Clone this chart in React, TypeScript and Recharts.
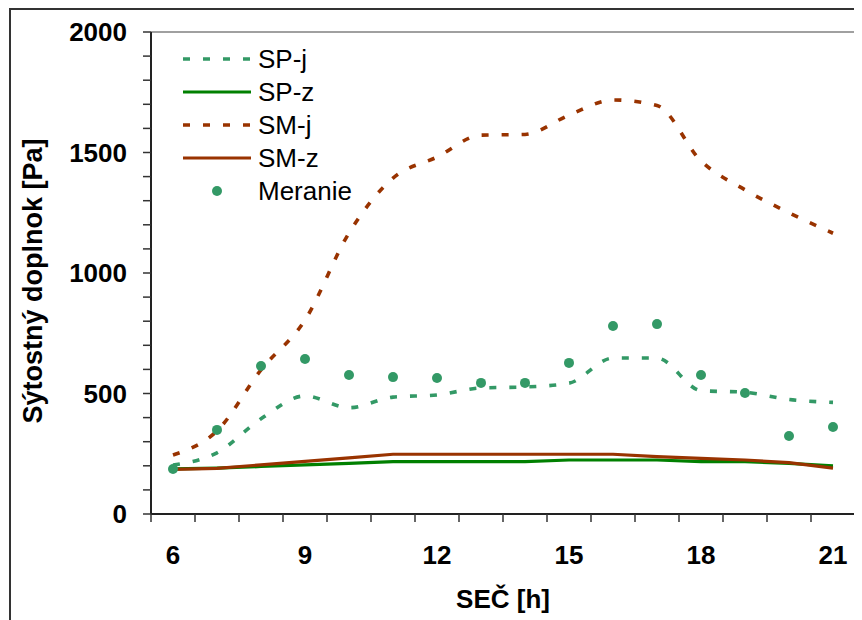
import { ComposedChart, Line, XAxis, YAxis, ReferenceLine, Legend } from "recharts"

const hours = [6, 7, 8, 9, 10, 11, 12, 13, 14, 15, 16, 17, 18, 19, 20, 21]
const spJ = [203, 254, 395, 490, 441, 485, 494, 523, 527, 543, 647, 647, 512, 505, 475, 463]
const spZ = [187, 190, 197, 204, 210, 217, 217, 217, 217, 224, 224, 224, 217, 217, 210, 200]
const smJ = [245, 345, 598, 805, 1166, 1394, 1481, 1572, 1575, 1655, 1718, 1695, 1465, 1345, 1250, 1165]
const smZ = [185, 189, 204, 218, 233, 248, 248, 248, 248, 248, 248, 238, 231, 224, 213, 190]
const meranie = [187, 349, 614, 643, 577, 568, 564, 544, 544, 627, 780, 788, 577, 502, 324, 361]

const xLabelTicks = [6, 9, 12, 15, 18, 21]
const yTicks = [0, 100, 200, 300, 400, 500, 600, 700, 800, 900, 1000, 1100, 1200, 1300, 1400, 1500, 1600, 1700, 1800, 1900, 2000]

const GREEN = "#339966"
const DARK_GREEN = "#008000"
const BROWN = "#993300"
const FONT = "'Liberation Sans', Arial, sans-serif"
const DASH = "7 13"

const data = hours.map((h, i) => ({
  hour: h,
  spj: spJ[i],
  spz: spZ[i],
  smj: smJ[i],
  smz: smZ[i],
  meranie: meranie[i],
}))

// tick marks sit between the hours, like Excel's category axis
const xMinorTicks = [...hours.map((h) => h - 0.5), hours[hours.length - 1] + 0.5]
const xTicks = [...xMinorTicks, ...xLabelTicks].sort((a, b) => a - b)

const legendRows = [
  { name: "SP-j", color: GREEN, dash: DASH },
  { name: "SP-z", color: DARK_GREEN },
  { name: "SM-j", color: BROWN, dash: DASH },
  { name: "SM-z", color: BROWN },
  { name: "Meranie", color: GREEN, dot: true },
]

function HourTick(props: any) {
  const { x, y, payload } = props
  const v = payload.value
  if (!Number.isInteger(v)) {
    return <line x1={x} x2={x} y1={y} y2={y + 8} stroke="#333" strokeWidth={1.5} />
  }
  return (
    <text x={x} y={y + 50} textAnchor="middle" fontFamily={FONT} fontWeight="bold" fontSize={26} fill="#000">
      {v}
    </text>
  )
}

function LegendBox() {
  return (
    <svg width={240} height={170}>
      {legendRows.map((r, i) => {
        const y = 19 + i * 33
        return (
          <g key={r.name}>
            {r.dot ? (
              <circle cx={46} cy={y} r={5} fill={r.color} />
            ) : (
              <line
                x1={12}
                x2={80}
                y1={y}
                y2={y}
                stroke={r.color}
                strokeWidth={r.dash ? 3.6 : 3.2}
                strokeDasharray={r.dash}
              />
            )}
            <text x={87} y={y + 9} fontFamily={FONT} fontSize={26} fill="#000">
              {r.name}
            </text>
          </g>
        )
      })}
    </svg>
  )
}

export default function App() {
  return (
    <div
      style={{
        marginLeft: 1,
        width: 851,
        height: 610,
        borderTop: "2px solid #333",
        borderLeft: "2px solid #333",
        overflow: "hidden",
        background: "#fff",
      }}
    >
      <style>{`body{overflow:hidden}`}</style>
      <ComposedChart width={851} height={610} data={data} margin={{ top: 22, right: 7, bottom: 0, left: 0 }}>
        <XAxis
          dataKey="hour"
          type="number"
          domain={[5.5, 21.5]}
          ticks={xTicks}
          interval={0}
          height={106}
          tickSize={0}
          tickMargin={0}
          tickLine={false}
          tick={<HourTick />}
          axisLine={{ stroke: "#222", strokeWidth: 2 }}
          label={{
            content: () => (
              <text x={492} y={598} textAnchor="middle" fontFamily={FONT} fontWeight="bold" fontSize={26} fill="#000">
                SEČ [h]
              </text>
            ),
          }}
        />
        <YAxis
          type="number"
          domain={[0, 2000]}
          ticks={yTicks}
          interval={0}
          width={140}
          tickSize={8}
          tickMargin={16}
          tickFormatter={(v: number) => (v % 500 === 0 ? String(v) : "")}
          tick={{ fontFamily: FONT, fontWeight: "bold", fontSize: 26, fill: "#000" }}
          tickLine={{ stroke: "#333", strokeWidth: 1.5 }}
          axisLine={{ stroke: "#222", strokeWidth: 2 }}
          label={{
            content: () => (
              <text
                x={31}
                y={271}
                transform="rotate(-90, 31, 271)"
                textAnchor="middle"
                fontFamily={FONT}
                fontWeight="bold"
                fontSize={27}
                fill="#000"
              >
                Sýtostný doplnok [Pa]
              </text>
            ),
          }}
        />
        <ReferenceLine y={2000} stroke="#a0a0a0" strokeWidth={2} />
        <ReferenceLine x={21.5} stroke="#a0a0a0" strokeWidth={2} />
        <Legend
          layout="vertical"
          align="center"
          verticalAlign="middle"
          content={() => <LegendBox />}
          wrapperStyle={{ left: 160, top: 30, width: 240, height: 170 }}
        />
        <Line dataKey="spz" name="SP-z" type="linear" stroke={DARK_GREEN} strokeWidth={3.2} dot={false} isAnimationActive={false} />
        <Line dataKey="smz" name="SM-z" type="linear" stroke={BROWN} strokeWidth={3.2} dot={false} isAnimationActive={false} />
        <Line
          dataKey="meranie"
          name="Meranie"
          stroke="none"
          strokeWidth={0}
          dot={{ r: 5, fill: GREEN, stroke: "none" }}
          activeDot={false}
          isAnimationActive={false}
        />
        <Line dataKey="spj" name="SP-j" type="monotone" stroke={GREEN} strokeWidth={3.6} strokeDasharray={DASH} dot={false} isAnimationActive={false} />
        <Line dataKey="smj" name="SM-j" type="monotone" stroke={BROWN} strokeWidth={3.6} strokeDasharray={DASH} dot={false} isAnimationActive={false} />
      </ComposedChart>
    </div>
  )
}
